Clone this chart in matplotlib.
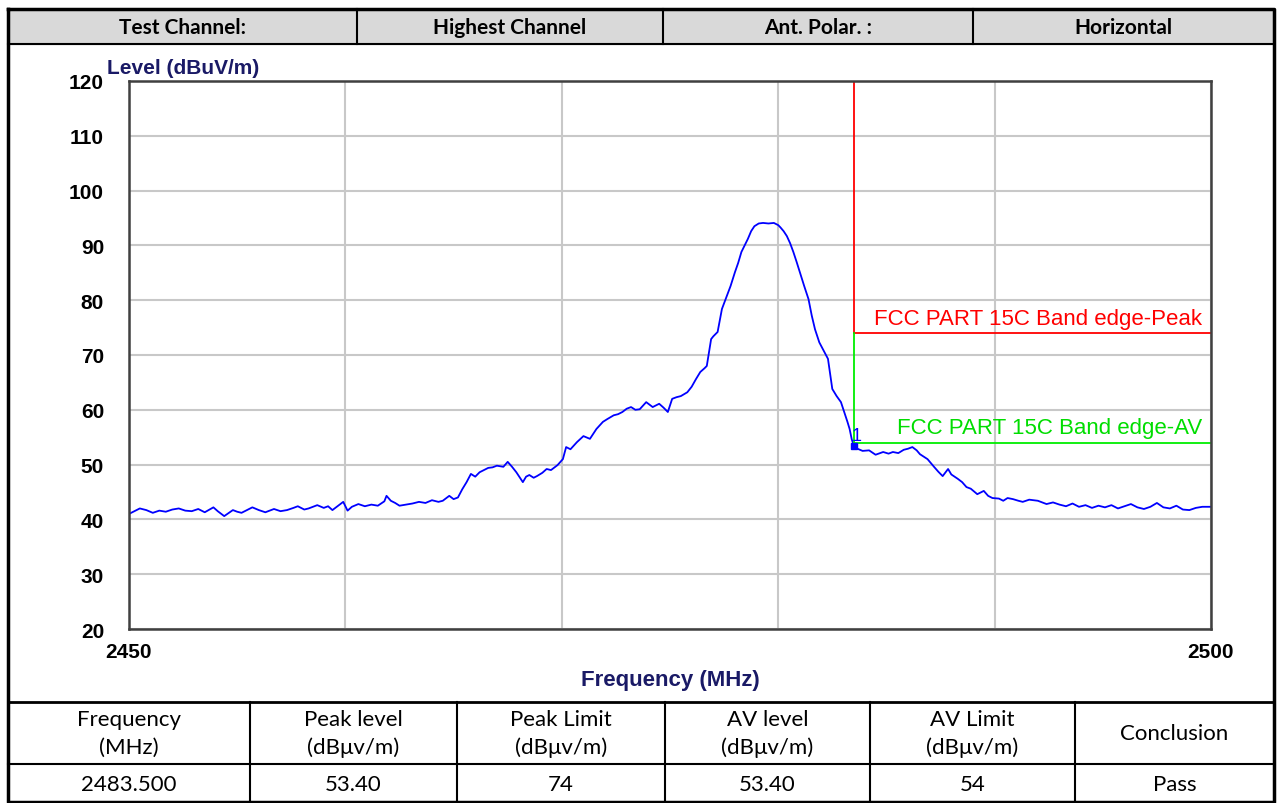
import matplotlib
matplotlib.use('Agg')
from matplotlib import pyplot as plt

# header / result table text
head_cells = ['Test Channel:', 'Highest Channel', 'Ant. Polar. :', 'Horizontal']
res_head = ['Frequency\n(MHz)', 'Peak level\n(dBμv/m)', 'Peak Limit\n(dBμv/m)',
            'AV level\n(dBμv/m)', 'AV Limit\n(dBμv/m)', 'Conclusion']
res_vals = ['2483.500', '53.40', '74', '53.40', '54', 'Pass']

# limits
edge_freq = 2483.5
peak_limit = 74
av_limit = 54
marker_freq = 2483.5
marker_level = 53.4

# trace
freq = [2450.0, 2450.3, 2450.5, 2450.8, 2451.1, 2451.4, 2451.7, 2452.0, 2452.3, 2452.6,
        2452.9, 2453.2, 2453.5, 2453.9, 2454.1, 2454.4, 2454.8, 2455.0, 2455.2, 2455.5,
        2455.7, 2456.0, 2456.3, 2456.5, 2456.7, 2457.0, 2457.3, 2457.6, 2457.8, 2458.1,
        2458.3, 2458.5, 2458.7, 2459.0, 2459.2, 2459.4, 2459.6, 2459.9, 2460.1, 2460.3,
        2460.6, 2460.9, 2461.2, 2461.5, 2461.8, 2461.9, 2462.1, 2462.3, 2462.5, 2462.8,
        2463.1, 2463.4, 2463.7, 2464.0, 2464.3, 2464.5, 2464.8, 2465.0, 2465.2, 2465.4,
        2465.6, 2465.8, 2466.0, 2466.2, 2466.4, 2466.6, 2466.8, 2467.0, 2467.3, 2467.5,
        2467.7, 2467.9, 2468.2, 2468.35, 2468.5, 2468.7, 2468.85, 2469.1, 2469.3, 2469.5,
        2469.8, 2470.05, 2470.2, 2470.4, 2470.7, 2471.0, 2471.3, 2471.6, 2471.9, 2472.1,
        2472.4, 2472.6, 2472.8, 2473.0, 2473.2, 2473.4, 2473.6, 2473.9, 2474.2, 2474.5,
        2474.7, 2474.9, 2475.1, 2475.3, 2475.5, 2475.8, 2476.0, 2476.2, 2476.4, 2476.6,
        2476.7, 2476.9, 2477.0, 2477.2, 2477.4, 2477.6, 2477.8, 2478.0, 2478.15, 2478.3,
        2478.45, 2478.6, 2478.75, 2478.9, 2479.1, 2479.3, 2479.55, 2479.8, 2480.0, 2480.1,
        2480.25, 2480.4, 2480.55, 2480.7, 2480.85, 2481.0, 2481.2, 2481.4, 2481.55, 2481.7,
        2481.9, 2482.1, 2482.3, 2482.4, 2482.5, 2482.7, 2482.9, 2483.05, 2483.2, 2483.3,
        2483.4, 2483.5, 2483.6, 2483.9, 2484.2, 2484.5, 2484.85, 2485.1, 2485.3, 2485.55,
        2485.8, 2486.0, 2486.2, 2486.4, 2486.55, 2486.9, 2487.2, 2487.4, 2487.6, 2487.85,
        2488.0, 2488.3, 2488.5, 2488.7, 2488.9, 2489.2, 2489.5, 2489.7, 2489.9, 2490.2,
        2490.4, 2490.6, 2490.85, 2491.1, 2491.3, 2491.6, 2492.0, 2492.4, 2492.7, 2493.0,
        2493.3, 2493.6, 2493.9, 2494.2, 2494.5, 2494.8, 2495.1, 2495.4, 2495.7, 2496.0,
        2496.3, 2496.6, 2496.9, 2497.2, 2497.5, 2497.8, 2498.1, 2498.4, 2498.7, 2499.0,
        2499.3, 2499.6, 2500.0]
level = [41.0, 41.6, 42.0, 41.7, 41.2, 41.6, 41.4, 41.8, 42.0, 41.6,
         41.5, 41.9, 41.3, 42.2, 41.5, 40.6, 41.7, 41.4, 41.2, 41.8,
         42.2, 41.7, 41.3, 41.6, 41.9, 41.5, 41.7, 42.1, 42.4, 41.8,
         42.0, 42.3, 42.6, 42.1, 42.4, 41.7, 42.3, 43.2, 41.6, 42.3,
         42.8, 42.4, 42.7, 42.5, 43.3, 44.3, 43.4, 43.0, 42.5, 42.7,
         42.9, 43.2, 43.0, 43.5, 43.2, 43.4, 44.3, 43.7, 44.0, 45.5,
         46.8, 48.3, 47.8, 48.6, 49.0, 49.4, 49.5, 49.8, 49.6, 50.5,
         49.6, 48.6, 46.8, 47.8, 48.1, 47.6, 47.9, 48.5, 49.2, 49.0,
         49.9, 51.0, 53.2, 52.8, 54.1, 55.2, 54.7, 56.5, 57.8, 58.3,
         59.0, 59.2, 59.6, 60.2, 60.5, 60.0, 60.1, 61.4, 60.5, 61.1,
         60.4, 59.6, 62.0, 62.3, 62.5, 63.2, 64.2, 65.6, 66.9, 67.6,
         68.0, 72.9, 73.4, 74.2, 78.4, 80.5, 82.6, 85.1, 86.8, 88.8,
         90.0, 91.2, 92.6, 93.5, 94.0, 94.1, 94.0, 94.1, 93.7, 93.3,
         92.6, 91.7, 90.4, 88.8, 87.0, 85.1, 82.6, 80.2, 77.2, 74.7,
         72.3, 70.8, 69.3, 66.5, 63.8, 62.5, 61.4, 59.6, 57.8, 56.5,
         54.6, 53.4, 53.0, 52.5, 52.6, 51.8, 52.3, 52.0, 52.3, 52.1,
         52.7, 52.9, 53.2, 52.6, 51.9, 51.0, 49.6, 48.7, 47.9, 49.2,
         48.2, 47.4, 46.8, 45.9, 45.6, 44.6, 45.2, 44.3, 43.9, 43.8,
         43.4, 43.9, 43.7, 43.4, 43.2, 43.6, 43.4, 42.8, 43.1, 42.7,
         42.4, 42.9, 42.3, 42.6, 42.1, 42.5, 42.2, 42.6, 42.0, 42.4,
         42.8, 42.2, 41.9, 42.3, 43.0, 42.2, 42.0, 42.5, 41.8, 41.7,
         42.1, 42.3, 42.3]

W, H = 1282, 804
fig = plt.figure(figsize=(W / 100, H / 100), dpi=100)

# page layer in pixel coords for the table frame
bg = fig.add_axes([0, 0, 1, 1])
bg.set_xlim(0, W)
bg.set_ylim(H, 0)
bg.axis('off')
cal = 'Lato'

# header row
bg.fill_between([8, 1274], 10, 45, color='#d9d9d9', zorder=0)
hx = [8, 357, 663, 973, 1274]
for i, t in enumerate(head_cells):
    bg.text((hx[i] + hx[i + 1]) / 2, 28, t, ha='center', va='center',
            fontsize=15, fontweight='bold', family=cal)
for x in hx[1:-1]:
    bg.plot([x, x], [10, 45], color='k', lw=1.5)

# result table
rx = [8, 250, 457, 665, 870, 1075, 1274]
for i in range(6):
    cx = (rx[i] + rx[i + 1]) / 2
    bg.text(cx, 734, res_head[i], ha='center', va='center', fontsize=16,
            family=cal, linespacing=1.45)
    bg.text(cx, 785, res_vals[i], ha='center', va='center', fontsize=16, family=cal)
for x in rx[1:-1]:
    bg.plot([x, x], [703, 803], color='k', lw=1.5)
bg.plot([8, 1274], [45, 45], color='k', lw=1.5)
bg.plot([8, 1274], [703, 703], color='k', lw=2)
bg.plot([8, 1274], [765, 765], color='k', lw=1.5)
bg.plot([8, 1274, 1274, 8, 8], [10, 10, 803, 803, 10], color='k', lw=2.5)

# chart
ax = fig.add_axes([129 / W, 1 - 630 / H, (1211 - 129) / W, (630 - 82) / H])
ax.set_xlim(2450, 2500)
ax.set_ylim(20, 120)
ax.set_xticks([2460, 2470, 2480, 2490], minor=True)
ax.set_xticks([2450, 2500])
ax.set_yticks(range(20, 121, 10))
ax.grid(True, which='both', color='#c8c8c8', lw=1.5)
ax.set_axisbelow(True)
ax.tick_params(length=0, which='both')
ax.tick_params(axis='y', pad=18, labelsize=15)
ax.tick_params(axis='x', pad=9, labelsize=15)
for lab in ax.get_xticklabels() + ax.get_yticklabels():
    lab.set_fontweight('bold')
    lab.set_family('Liberation Sans')
for s in ax.spines.values():
    s.set_color('#404040')
    s.set_linewidth(1.8)

ax.plot(freq, level, color='#0000ff', lw=1.3)

# limit lines
ax.plot([edge_freq, edge_freq], [120, peak_limit], color='#ff0000', lw=1.3)
ax.plot([edge_freq, 2500], [peak_limit, peak_limit], color='#ff0000', lw=1.3)
ax.plot([edge_freq, edge_freq], [peak_limit, av_limit], color='#00ee00', lw=1.3)
ax.plot([edge_freq, 2500], [av_limit, av_limit], color='#00ee00', lw=1.3)
ax.text(2499.6, peak_limit + 0.8, 'FCC PART 15C Band edge-Peak', color='#ff0000',
        ha='right', va='bottom', fontsize=16, family='Liberation Sans')
ax.text(2499.6, av_limit + 0.8, 'FCC PART 15C Band edge-AV', color='#00dd00',
        ha='right', va='bottom', fontsize=16, family='Liberation Sans')

# marker 1
ax.plot([marker_freq], [marker_level], 's', color='#0000ff', ms=4)
ax.text(marker_freq - 0.1, marker_level + 0.3, '1', color='#0000ff', fontsize=13,
        ha='left', va='bottom', family='Liberation Sans')

# axis titles
ax.text(-0.02, 1.008, 'Level (dBuV/m)', transform=ax.transAxes, color='#1a1a66',
        fontsize=15, fontweight='bold', family='Liberation Sans', ha='left', va='bottom')
ax.set_xlabel('Frequency (MHz)', color='#1a1a66', fontsize=16, fontweight='bold',
              family='Liberation Sans', labelpad=6)

fig.savefig('out.png', dpi=100)
